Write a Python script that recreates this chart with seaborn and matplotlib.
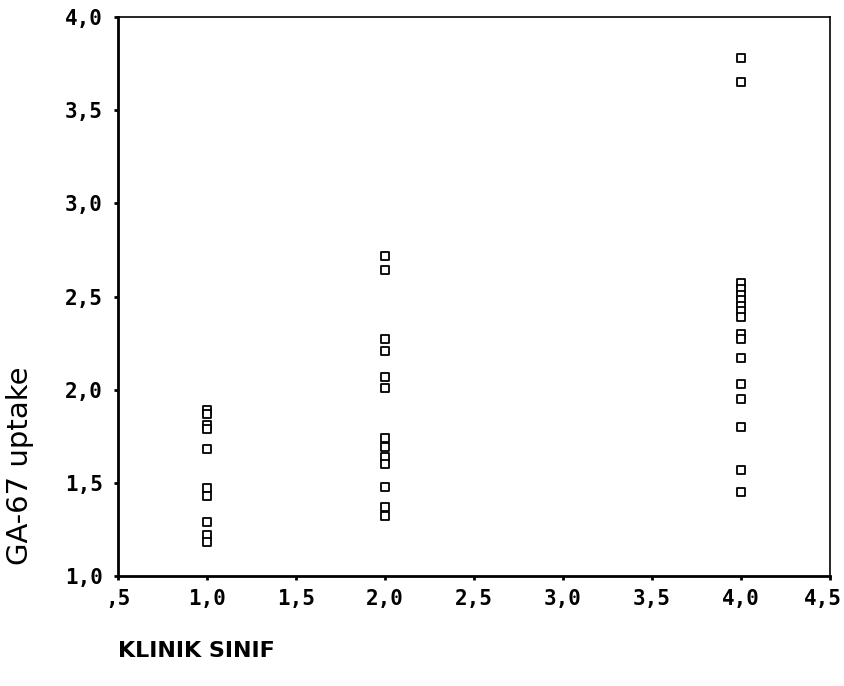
import matplotlib
matplotlib.use("Agg")
import matplotlib.pyplot as plt
import seaborn as sns
import pandas as pd

# Data
sinif_1 = [1.89, 1.87, 1.81, 1.79, 1.68, 1.47, 1.43, 1.29, 1.22, 1.18]
sinif_2 = [2.72, 2.64, 2.27, 2.21, 2.07, 2.01, 1.74, 1.69, 1.64, 1.60, 1.48, 1.37, 1.32]
sinif_4 = [3.78, 3.65, 2.57, 2.54, 2.51, 2.48, 2.45, 2.42, 2.39, 2.30, 2.27,
           2.17, 2.03, 1.95, 1.80, 1.57, 1.45]

x_ticks = [0.5, 1.0, 1.5, 2.0, 2.5, 3.0, 3.5, 4.0, 4.5]
x_labels = [",5", "1,0", "1,5", "2,0", "2,5", "3,0", "3,5", "4,0", "4,5"]
y_ticks = [1.0, 1.5, 2.0, 2.5, 3.0, 3.5, 4.0]
y_labels = ["1,0", "1,5", "2,0", "2,5", "3,0", "3,5", "4,0"]

df = pd.DataFrame({
    "KLINIK SINIF": [1.0] * len(sinif_1) + [2.0] * len(sinif_2) + [4.0] * len(sinif_4),
    "GA-67 uptake": sinif_1 + sinif_2 + sinif_4,
})

sns.set_theme(style="white")
plt.rcParams['font.family'] = ['DejaVu Sans']
plt.rcParams['text.color'] = 'black'
plt.rcParams['xtick.color'] = 'black'
plt.rcParams['ytick.color'] = 'black'

fig = plt.figure(figsize=(8.44, 6.86), dpi=100)
ax = fig.add_axes([118 / 844, 1 - 576 / 686, (830 - 118) / 844, (576 - 17) / 686])

sns.scatterplot(data=df, x="KLINIK SINIF", y="GA-67 uptake", ax=ax,
                marker="s", s=28, facecolor="white", edgecolor="black",
                linewidth=1.3, legend=False, zorder=3)

ax.set_xlim(0.5, 4.5)
ax.set_ylim(1.0, 4.0)
tick_font = dict(family="DejaVu Sans Mono", fontsize=15, fontweight="bold", color="black")
ax.set_xticks(x_ticks)
# last label drawn separately, nudged left so it stays inside the figure
ax.set_xticklabels(x_labels[:-1] + [""], **tick_font)
ax.annotate(x_labels[-1], xy=(x_ticks[-1], 0), xycoords=("data", "axes fraction"),
            xytext=(-5, -9.5), textcoords="offset points", ha="center", va="top",
            **tick_font)
ax.set_yticks(y_ticks)
ax.set_yticklabels(y_labels, **tick_font)
ax.set_xlabel("")
ax.set_ylabel("")

for side in ["left", "bottom"]:
    ax.spines[side].set_linewidth(2.0)
for side in ["top", "right"]:
    ax.spines[side].set_linewidth(1.2)
for sp in ax.spines.values():
    sp.set_color("black")
    sp.set_visible(True)

ax.tick_params(axis="both", direction="out", length=3, width=2, color="black",
               left=True, bottom=True)
ax.tick_params(axis="x", pad=6)
ax.tick_params(axis="y", pad=8)

fig.text(20 / 844, 1 - 466 / 686, "GA-67 uptake", rotation=90, ha="center",
         va="center", fontsize=21, color="black")
fig.text(118 / 844, 1 - 651 / 686, "KLINIK SINIF", ha="left", va="center",
         fontsize=16, fontweight="bold", color="black")

fig.savefig("out.png", dpi=100, facecolor="white")
